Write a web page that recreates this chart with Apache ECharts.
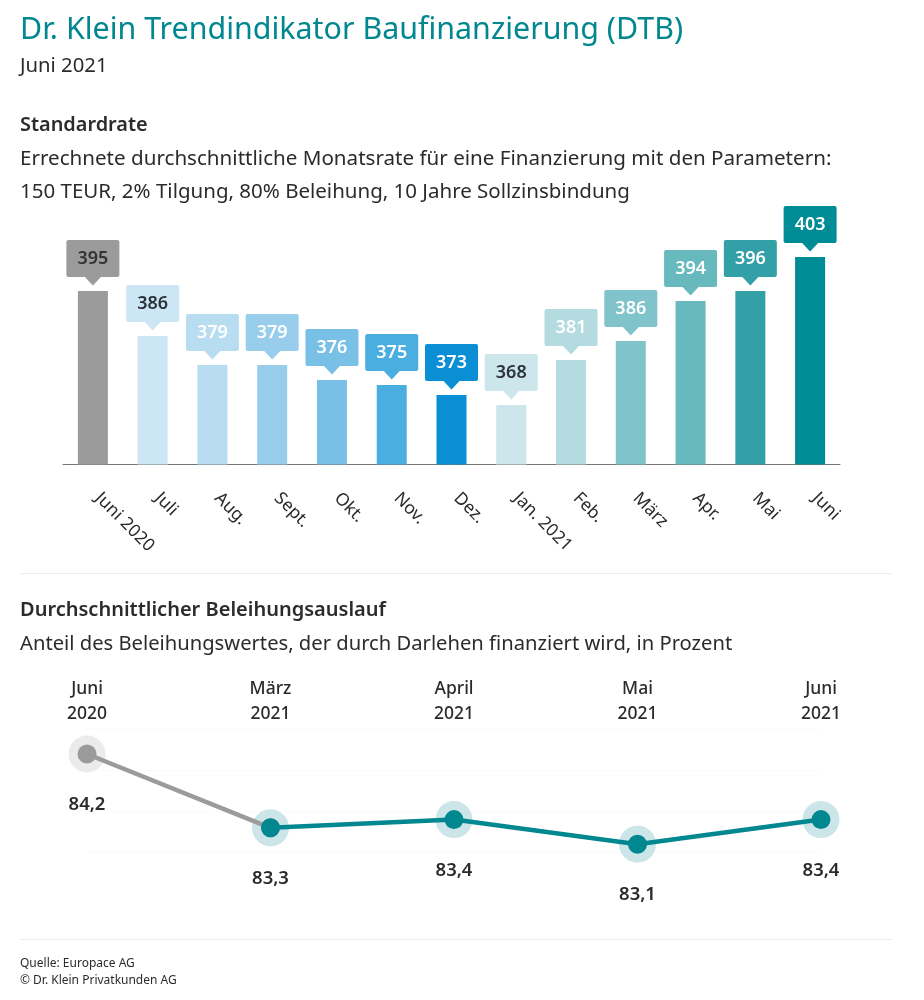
<!DOCTYPE html>
<html>
<head>
<meta charset="UTF-8">
<title>Dr. Klein Trendindikator Baufinanzierung</title>
<script src="https://cdn.jsdelivr.net/npm/echarts@6/dist/echarts.min.js"></script>
<style>
  html, body { margin: 0; padding: 0; background: #fff; }
  #chart { width: 924px; height: 1000px; }
</style>
</head>
<body>
<div id="chart"></div>
<script>
// Standardrate
var months = ['Juni 2020', 'Juli', 'Aug.', 'Sept.', 'Okt.', 'Nov.', 'Dez.', 'Jan. 2021', 'Feb.', 'März', 'Apr.', 'Mai', 'Juni'];
var rates = [395, 386, 379, 379, 376, 375, 373, 368, 381, 386, 394, 396, 403];
// the picture does not draw its bars strictly to scale, so the drawn level is read separately from the printed rate
var barLevels = [396.2, 387.2, 381.4, 381.4, 378.4, 377.4, 375.4, 373.4, 382.4, 386.2, 394.2, 396.2, 403];

// Beleihungsauslauf
var ltvMonths = ['Juni\n2020', 'März\n2021', 'April\n2021', 'Mai\n2021', 'Juni\n2021'];
var ltvValues = [84.2, 83.3, 83.4, 83.1, 83.4];

var barColors = ['#9b9b9b', '#cce6f5', '#b8ddf1', '#98cdec', '#78c0e6', '#4aaee0', '#0a8fd4', '#cde6eb', '#b4dbdf', '#80c3cb', '#68b9be', '#33a0a8', '#008c94'];
var labelColors = ['#333', '#2b3238', '#fff', '#fff', '#fff', '#fff', '#fff', '#2b3238', '#fff', '#fff', '#fff', '#fff', '#fff'];

var font = '"Noto Sans", sans-serif';
var dark = '#2b2b2b';
var teal = '#00878f';
var grey = '#9b9b9b';

function textBlock(text, top, size, weight, color) {
    return {
        text: text, left: 20, top: top, padding: 0,
        textStyle: { fontFamily: font, fontSize: size, fontWeight: weight, color: color }
    };
}

var myChart = echarts.init(document.getElementById('chart'));

myChart.setOption({
    animation: false,
    backgroundColor: '#fff',
    title: [
        textBlock('Dr. Klein Trendindikator Baufinanzierung (DTB)', 15, 30.4, 400, teal),
        textBlock('Juni 2021', 56, 20.3, 400, dark),
        textBlock('Standardrate', 115, 19.9, 600, dark),
        textBlock('Errechnete durchschnittliche Monatsrate für eine Finanzierung mit den Parametern:', 149, 20.6, 400, dark),
        textBlock('150 TEUR, 2% Tilgung, 80% Beleihung, 10 Jahre Sollzinsbindung', 182, 20.5, 400, dark),
        textBlock('Durchschnittlicher Beleihungsauslauf', 600, 20, 600, dark),
        textBlock('Anteil des Beleihungswertes, der durch Darlehen finanziert wird, in Prozent', 634, 20.2, 400, dark),
        textBlock('Quelle: Europace AG', 958, 12, 400, dark),
        textBlock('© Dr. Klein Privatkunden AG', 975, 12, 400, dark)
    ],
    graphic: [
        { type: 'line', shape: { x1: 20, y1: 573.5, x2: 892, y2: 573.5 }, style: { stroke: '#ececec', lineWidth: 1 } },
        { type: 'line', shape: { x1: 20, y1: 939.5, x2: 892, y2: 939.5 }, style: { stroke: '#ececec', lineWidth: 1 } }
    ],
    grid: [
        { left: 63, top: 164.5, width: 777, height: 300 },
        { left: 87, top: 729.4, width: 734, height: 123 }
    ],
    xAxis: [{
        gridIndex: 0,
        type: 'category',
        data: months,
        axisTick: { show: false },
        axisLine: { lineStyle: { color: '#777', width: 1 } },
        axisLabel: { rotate: -45, margin: 26, padding: [0, 0, 0, 7], interval: 0, fontFamily: font, fontSize: 17.5, color: dark }
    }, {
        gridIndex: 1,
        type: 'category',
        position: 'top',
        boundaryGap: false,
        data: ltvMonths,
        axisTick: { show: false },
        axisLine: { show: false },
        axisLabel: { margin: 3, interval: 0, lineHeight: 25, fontFamily: font, fontSize: 17.5, fontWeight: 500, color: dark }
    }],
    yAxis: [{
        gridIndex: 0,
        type: 'value',
        min: 361.5,
        max: 421.5,
        show: false
    }, {
        gridIndex: 1,
        type: 'value',
        min: 83,
        max: 84.5,
        interval: 0.5,
        axisLine: { show: false },
        axisTick: { show: false },
        axisLabel: { show: false },
        splitLine: { lineStyle: { color: '#fafafa', width: 1 } }
    }],
    series: [{
        type: 'bar',
        xAxisIndex: 0,
        yAxisIndex: 0,
        barWidth: 30,
        data: barLevels.map(function (v, i) {
            return { value: v, itemStyle: { color: barColors[i] } };
        })
    }, {
        // callout above each bar: box, pointer and printed rate
        type: 'custom',
        xAxisIndex: 0,
        yAxisIndex: 0,
        clip: false,
        encode: { x: 0, y: 1 },
        data: barLevels.map(function (v, i) { return [i, v, rates[i]]; }),
        renderItem: function (params, api) {
            var i = api.value(0);
            var p = api.coord([i, api.value(1)]);
            var x = p[0], tip = p[1] - 5.5, boxBottom = p[1] - 14;
            return {
                type: 'group',
                children: [{
                    type: 'rect',
                    shape: { x: x - 26.5, y: boxBottom - 37, width: 53, height: 37, r: 2 },
                    style: { fill: barColors[i] }
                }, {
                    type: 'polygon',
                    shape: { points: [[x - 8, boxBottom], [x + 8, boxBottom], [x, tip]] },
                    style: { fill: barColors[i] }
                }, {
                    type: 'text',
                    style: {
                        x: x, y: boxBottom - 18.5,
                        text: String(api.value(2)),
                        align: 'center', verticalAlign: 'middle',
                        fontFamily: font, fontSize: 18, fontWeight: 600,
                        fill: labelColors[i]
                    }
                }]
            };
        }
    }, {
        // pale halo behind every point, carries the value label
        type: 'scatter',
        xAxisIndex: 1,
        yAxisIndex: 1,
        symbolSize: 37,
        z: 1,
        data: ltvValues.map(function (v, i) {
            return { value: v, itemStyle: { opacity: 1, color: i === 0 ? '#ebebeb' : '#cbe5e8' } };
        }),
        label: {
            show: true,
            position: 'bottom',
            distance: 23,
            fontFamily: font, fontSize: 18.5, fontWeight: 600, color: dark, opacity: 1,
            formatter: function (p) { return p.value.toFixed(1).replace('.', ','); }
        }
    }, {
        type: 'line',
        xAxisIndex: 1,
        yAxisIndex: 1,
        z: 2,
        symbol: 'circle',
        symbolSize: 19,
        lineStyle: { color: grey, width: 4.5 },
        itemStyle: { color: grey },
        data: [ltvValues[0], ltvValues[1], null, null, null]
    }, {
        type: 'line',
        xAxisIndex: 1,
        yAxisIndex: 1,
        z: 3,
        symbol: 'circle',
        symbolSize: 19,
        lineStyle: { color: teal, width: 4.5 },
        itemStyle: { color: teal },
        data: [null].concat(ltvValues.slice(1))
    }]
});
</script>
</body>
</html>
